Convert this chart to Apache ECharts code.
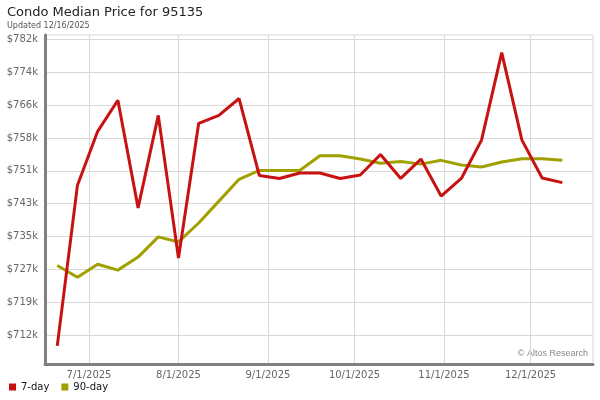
<!DOCTYPE html>
<html>
<head>
<meta charset="utf-8">
<script src="https://cdn.jsdelivr.net/npm/echarts@6/dist/echarts.min.js"></script>
<style>
  html, body { margin: 0; padding: 0; background: #fff; }
  #main { width: 600px; height: 400px; }
</style>
</head>
<body>
<div id="main"></div>
<script>
// weekly dates
const dates = ['2025-06-20', '2025-06-27', '2025-07-04', '2025-07-11', '2025-07-18', '2025-07-25',
  '2025-08-01', '2025-08-08', '2025-08-15', '2025-08-22', '2025-08-29', '2025-09-05',
  '2025-09-12', '2025-09-19', '2025-09-26', '2025-10-03', '2025-10-10', '2025-10-17',
  '2025-10-24', '2025-10-31', '2025-11-07', '2025-11-14', '2025-11-21', '2025-11-28',
  '2025-12-05', '2025-12-12']

// values in $
const sevenDay = [709500, 747700, 760500, 767900, 742300, 764300, 730400, 762400, 764300, 768300,
  750000, 749300, 750600, 750600, 749300, 750100, 755000, 749300, 753900, 745100,
  749300, 758400, 779200, 758400, 749400, 748300]
const ninetyDay = [728600, 725800, 728900, 727500, 730600, 735400, 734200, 738700, 743900, 749100,
  751200, 751200, 751200, 754700, 754700, 753900, 752900, 753300, 752700, 753600,
  752500, 752000, 753200, 754000, 754000, 753600]

const yTickValues = [712000, 719820, 727640, 735460, 743280, 751100, 758920, 766740, 774560, 782380]
const yTickLabels = ['$712k', '$719k', '$727k', '$735k', '$743k', '$751k', '$758k', '$766k', '$774k', '$782k']

const xTickDates = ['2025-07-01', '2025-08-01', '2025-09-01', '2025-10-01', '2025-11-01', '2025-12-01']
const xTickLabels = ['7/1/2025', '8/1/2025', '9/1/2025', '10/1/2025', '11/1/2025', '12/1/2025']

const RED = '#c81212'
const OLIVE = '#a0a000'
const FONT = 'DejaVu Sans'

const toTime = s => new Date(s.length > 10 ? s + 'Z' : s + 'T00:00:00Z').getTime()
const xTickTimes = xTickDates.map(toTime)

const chart = echarts.init(document.getElementById('main'))

chart.setOption({
  animation: false,
  textStyle: { fontFamily: FONT },
  title: {
    text: 'Condo Median Price for 95135',
    subtext: 'Updated 12/16/2025',
    left: 2,
    top: 1,
    itemGap: 3,
    textStyle: { fontSize: 13, fontWeight: 'normal', color: '#222', fontFamily: FONT },
    subtextStyle: { fontSize: 8, color: '#555', fontFamily: FONT }
  },
  legend: {
    left: 4,
    bottom: 3,
    icon: 'rect',
    itemWidth: 7,
    itemHeight: 7,
    itemGap: 12,
    textStyle: { fontSize: 10, color: '#111', fontFamily: FONT },
    data: ['7-day', '90-day']
  },
  grid: {
    left: 45,
    right: 7,
    top: 35,
    bottom: 36,
    show: true,
    borderColor: '#d8d8d8',
    borderWidth: 1
  },
  graphic: [{
    type: 'text',
    right: 12,
    top: 349,
    style: { text: '\u00a9 Altos Research', fontSize: 9, fill: '#888', font: '9px DejaVu Sans' }
  }],
  xAxis: {
    type: 'value',
    min: toTime('2025-06-15T18:00:00'),
    max: toTime('2025-12-22T15:00:00'),
    axisLine: { show: true, lineStyle: { color: '#808080', width: 3 } },
    axisTick: { show: false, customValues: xTickTimes },
    splitLine: { show: true, lineStyle: { color: '#d8d8d8', width: 1 } },
    axisLabel: {
      customValues: xTickTimes,
      color: '#666',
      fontSize: 10,
      margin: 6,
      formatter: v => {
        const i = xTickTimes.indexOf(v)
        return i >= 0 ? xTickLabels[i] : ''
      }
    }
  },
  yAxis: {
    type: 'value',
    min: 705180,
    max: 783400,
    axisLine: { show: true, lineStyle: { color: '#808080', width: 3 } },
    axisTick: { show: false, customValues: yTickValues },
    splitLine: { show: true, lineStyle: { color: '#d8d8d8', width: 1 } },
    axisLabel: {
      customValues: yTickValues,
      color: '#666',
      fontSize: 10,
      margin: 7,
      formatter: v => {
        const i = yTickValues.indexOf(v)
        return i >= 0 ? yTickLabels[i] : ''
      }
    }
  },
  series: [
    {
      name: '7-day',
      type: 'line',
      showSymbol: false,
      color: RED,
      lineStyle: { width: 3, color: RED },
      data: dates.map((d, i) => [toTime(d), sevenDay[i]]),
      z: 3
    },
    {
      name: '90-day',
      type: 'line',
      showSymbol: false,
      color: OLIVE,
      lineStyle: { width: 3, color: OLIVE },
      data: dates.map((d, i) => [toTime(d), ninetyDay[i]]),
      z: 2
    }
  ]
})
</script>
</body>
</html>
